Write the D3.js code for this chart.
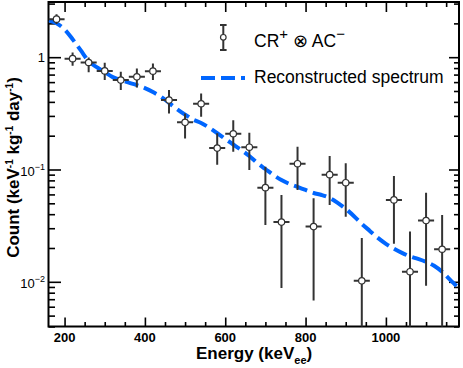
<!DOCTYPE html>
<html><head><meta charset="utf-8">
<script src="https://cdn.jsdelivr.net/npm/d3@7"></script>
<style>body{margin:0;background:#fff}svg{display:block}</style>
</head><body>
<svg id="c" width="463" height="368"></svg>
<script>
// ---- data ----
const energies = [180,220,260,300,340,380,420,460,500,540,580,620,660,700,740,780,820,860,900,940,1020,1060,1100,1140];
const counts   = [2.18,0.97,0.897,0.755,0.625,0.668,0.751,0.415,0.263,0.385,0.155,0.208,0.158,0.0689,0.034,0.1126,0.031,0.09,0.0763,0.0102,0.0536,0.0123,0.0351,0.0195];
const countsHigh = [2.41,1.10,0.994,0.89,0.74,0.793,0.879,0.509,0.316,0.476,0.21,0.275,0.212,0.106,0.0593,0.1595,0.0555,0.1318,0.1135,0.0245,0.0876,0.028,0.0622,0.0394];
const countsLow  = [1.97,0.84,0.736,0.625,0.509,0.538,0.625,0.316,0.189,0.295,0.11,0.144,0.099,0.0321,0.00879,0.0657,0.00682,0.0484,0.038,0.002,0.0218,0.002,0.00921,0.002];
const binHalfWidth = 20;

const curveEnergy = [161,180,200,220,240,260,280,300,320,340,360,380,400,420,440,460,480,500,520,540,560,580,600,620,640,660,680,700,720,740,760,780,800,820,840,860,880,900,920,940,960,980,1000,1020,1040,1060,1080,1100,1120,1140,1160,1180,1183];
const curveCount  = [2.13,2.0,1.77,1.445,1.154,0.921,0.815,0.736,0.664,0.625,0.593,0.564,0.53,0.489,0.444,0.392,0.345,0.308,0.278,0.259,0.236,0.211,0.187,0.167,0.149,0.132,0.114,0.101,0.0894,0.0806,0.0743,0.0699,0.0657,0.0618,0.0593,0.0558,0.0504,0.0446,0.0386,0.0328,0.0284,0.0246,0.0218,0.0197,0.0181,0.01685,0.016,0.01506,0.01388,0.01227,0.0104,0.00885,0.0086];

const xMajorTicks = [200,400,600,800,1000];
const xMinorTicks = d3.range(200,1181,50);
const yMajorTicks = [1,0.1,0.01];
const yLabelBase = ["1","10","10"];
const yLabelExp  = ["","\u22121","\u22122"];
const yMinorTicks = [3,2,0.9,0.8,0.7,0.6,0.5,0.4,0.3,0.2,0.09,0.08,0.07,0.06,0.05,0.04,0.03,0.02,0.009,0.008,0.007,0.006,0.005,0.004];

// ---- layout ----
const L = 48.5, R = 459, T = 2, B = 326.5;
const svg = d3.select("#c");
const x = d3.scaleLinear().domain([160,1182]).range([L,R]);
const y = d3.scaleLog().domain([0.004,3.1]).range([B,T]);
const FONT = "'Liberation Sans', Arial, Helvetica, sans-serif";
const DARK = "#333";
const BLUE = "#0066ff";

// clip
svg.append("clipPath").attr("id","clip").append("rect")
  .attr("x",L).attr("y",T).attr("width",R-L).attr("height",B-T);

// ---- axes ticks (inward) ----
function tickAxis(axis, tr, size){
  const g = svg.append("g").attr("transform",tr)
    .call(axis.tickSize(size).tickFormat(""));
  g.select(".domain").remove();
  g.selectAll("line").attr("stroke","#000").attr("stroke-width",1.6);
  return g;
}
tickAxis(d3.axisBottom(x).tickValues(xMajorTicks), `translate(0,${B})`, -9);
tickAxis(d3.axisBottom(x).tickValues(xMinorTicks.filter(v=>!xMajorTicks.includes(v))), `translate(0,${B})`, -4.5);
tickAxis(d3.axisTop(x).tickValues(xMajorTicks), `translate(0,${T})`, -10);
tickAxis(d3.axisTop(x).tickValues(xMinorTicks.filter(v=>!xMajorTicks.includes(v))), `translate(0,${T})`, -5);
tickAxis(d3.axisLeft(y).tickValues(yMajorTicks), `translate(${L},0)`, -12.5);
tickAxis(d3.axisLeft(y).tickValues(yMinorTicks), `translate(${L},0)`, -6.5);
tickAxis(d3.axisRight(y).tickValues(yMajorTicks), `translate(${R},0)`, -10);
tickAxis(d3.axisRight(y).tickValues(yMinorTicks), `translate(${R},0)`, -5);

// x labels
svg.append("g").selectAll("text").data(xMajorTicks).join("text")
  .attr("x",d=>x(d)).attr("y",342).attr("text-anchor","middle")
  .attr("font-family",FONT).attr("font-weight","bold").attr("font-size",13)
  .text(d=>d);

// y labels
yMajorTicks.forEach((v,i)=>{
  const t = svg.append("text").attr("font-family",FONT).attr("font-size",13)
    .attr("text-anchor","end").attr("x",45)
    .attr("y", y(v) + (yLabelExp[i] ? 6.5 : 4.5));
  t.append("tspan").text(yLabelBase[i]);
  if (yLabelExp[i]) t.append("tspan").attr("font-size",9).attr("dy",-6).text(yLabelExp[i]);
});

// frame
svg.append("rect").attr("x",L).attr("y",T).attr("width",R-L).attr("height",B-T)
  .attr("fill","none").attr("stroke","#000").attr("stroke-width",2);

// ---- curve ----
const line = d3.line().x((d,i)=>x(curveEnergy[i])).y(d=>y(d)).curve(d3.curveMonotoneX);
svg.append("path").attr("clip-path","url(#clip)").attr("d",line(curveCount))
  .attr("fill","none").attr("stroke",BLUE).attr("stroke-width",4)
  .attr("stroke-dasharray","14,6");

// ---- data points ----
const pts = svg.append("g").attr("clip-path","url(#clip)");
energies.forEach((e,i)=>{
  pts.append("line").attr("x1",x(e)).attr("x2",x(e))
    .attr("y1",y(countsHigh[i])).attr("y2",y(countsLow[i]))
    .attr("stroke",DARK).attr("stroke-width",2);
  pts.append("line").attr("x1",x(e-binHalfWidth)).attr("x2",x(e+binHalfWidth))
    .attr("y1",y(counts[i])).attr("y2",y(counts[i]))
    .attr("stroke",DARK).attr("stroke-width",2);
  pts.append("circle").attr("cx",x(e)).attr("cy",y(counts[i])).attr("r",3.2)
    .attr("fill","#fff").attr("stroke",DARK).attr("stroke-width",1.2);
});

// ---- legend ----
const lg = svg.append("g");
lg.append("line").attr("x1",223.3).attr("x2",223.3).attr("y1",25).attr("y2",50)
  .attr("stroke",DARK).attr("stroke-width",2);
lg.append("line").attr("x1",220).attr("x2",226.6).attr("y1",25).attr("y2",25).attr("stroke",DARK).attr("stroke-width",2);
lg.append("line").attr("x1",220).attr("x2",226.6).attr("y1",50).attr("y2",50).attr("stroke",DARK).attr("stroke-width",2);
lg.append("circle").attr("cx",223.3).attr("cy",37.3).attr("r",2.8)
  .attr("fill","#fff").attr("stroke",DARK).attr("stroke-width",1.2);
const t1 = lg.append("text").attr("x",254).attr("y",46.7).attr("font-family",FONT).attr("font-size",17.5);
t1.append("tspan").text("CR");
t1.append("tspan").attr("font-size",15).attr("dy",-8).text("+");
t1.append("tspan").attr("dy",8).text(" \u2297 AC");
t1.append("tspan").attr("font-size",15).attr("dy",-8).text("\u2212");

lg.append("line").attr("x1",201).attr("x2",245).attr("y1",78).attr("y2",78)
  .attr("stroke",BLUE).attr("stroke-width",4).attr("stroke-dasharray","14,6");
lg.append("text").attr("x",254).attr("y",82.7).attr("font-family",FONT).attr("font-size",17.5)
  .text("Reconstructed spectrum");

// ---- axis titles ----
const xt = svg.append("text").attr("x",196).attr("y",359).attr("font-family",FONT)
  .attr("font-weight","bold").attr("font-size",17);
xt.append("tspan").text("Energy (keV");
xt.append("tspan").attr("font-size",11).attr("dy",5).text("ee");
xt.append("tspan").attr("dy",-5).text(")");

const yt = svg.append("text").attr("transform","translate(19,167.5) rotate(-90)")
  .attr("text-anchor","middle").attr("font-family",FONT).attr("font-weight","bold").attr("font-size",17);
yt.append("tspan").text("Count (keV");
yt.append("tspan").attr("font-size",10).attr("dy",-6).text("-1");
yt.append("tspan").attr("dy",6).text(" kg");
yt.append("tspan").attr("font-size",10).attr("dy",-6).text("-1");
yt.append("tspan").attr("dy",6).text(" day");
yt.append("tspan").attr("font-size",10).attr("dy",-6).text("-1");
yt.append("tspan").attr("dy",6).text(")");
</script>
</body></html>
